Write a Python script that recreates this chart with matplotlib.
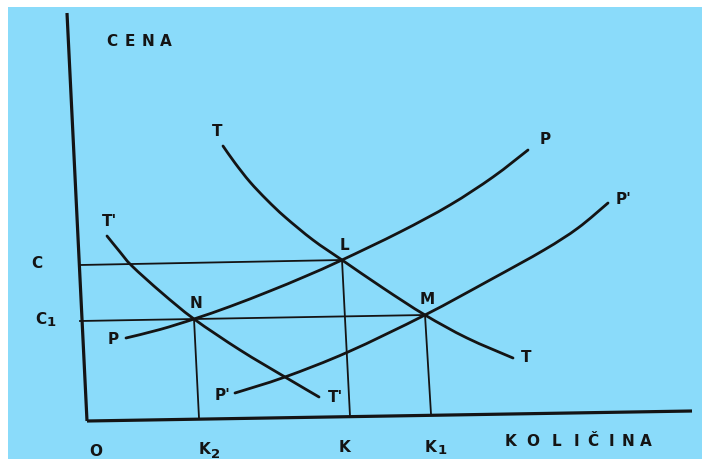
import matplotlib
matplotlib.use("Agg")
import matplotlib.pyplot as plt
from matplotlib.patches import Rectangle, PathPatch
from matplotlib.path import Path

# Supply / demand diagram in drawing units (x to the right, y downward)
# Demand curve T
t_x = [223, 235, 250, 267, 285, 313, 342, 383, 425, 467, 513]
t_y = [146, 163, 182, 200, 217, 240, 260, 288, 315, 338, 358]
# Shifted demand curve T'
t2_x = [107, 120, 132, 162, 194, 240, 285, 319]
t2_y = [236, 252, 266, 293, 319, 350, 377, 397]
# Supply curve P
p_x = [126, 160, 194, 230, 270, 305, 342, 400, 450, 493, 528]
p_y = [338, 329.5, 319, 306.5, 291, 276.5, 260, 232, 205, 177, 150]
# Shifted supply curve P'
p2_x = [235, 285, 348, 425, 490, 544, 578, 608]
p2_y = [393, 377, 352, 315, 280, 250, 228, 203]

# Equilibrium points N, L, M and where their guides meet the axes
eq_names = ["N", "L", "M"]
eq_x = [194, 342, 425]
eq_y = [319, 260, 315]
foot_x = [199, 350, 431]          # guide bottoms on quantity axis
foot_y = [418, 416, 414]
price_axis_x = [80, 80]           # guide starts on price axis (C, C1)
price_axis_y = [265, 321]

# Axes of the diagram
vaxis_x = [67, 87]
vaxis_y = [13, 421]
haxis_x = [87, 692]
haxis_y = [421, 411]

W, H = 702, 459
BLUE = "#8ADBFA"
INK = "#141414"


def smooth_path(xs, ys):
    """Cubic Bezier path through the given points (Catmull-Rom tangents)."""
    pts = list(zip(xs, ys))
    verts = [pts[0]]
    codes = [Path.MOVETO]
    n = len(pts)
    for i in range(n - 1):
        p0 = pts[i - 1] if i > 0 else pts[i]
        p1 = pts[i]
        p2 = pts[i + 1]
        p3 = pts[i + 2] if i + 2 < n else pts[i + 1]
        c1 = (p1[0] + (p2[0] - p0[0]) / 6, p1[1] + (p2[1] - p0[1]) / 6)
        c2 = (p2[0] - (p3[0] - p1[0]) / 6, p2[1] - (p3[1] - p1[1]) / 6)
        verts += [c1, c2, p2]
        codes += [Path.CURVE4] * 3
    return Path(verts, codes)


fig = plt.figure(figsize=(W / 100, H / 100), dpi=100, facecolor="white")
ax = fig.add_axes([0, 0, 1, 1])
ax.set_xlim(0, W)
ax.set_ylim(H, 0)
ax.axis("off")

ax.add_patch(Rectangle((8, 7), W - 8, H - 7, facecolor=BLUE, edgecolor="none", zorder=0))

# axes
ax.plot(vaxis_x, vaxis_y, color=INK, lw=2.3, solid_capstyle="butt", zorder=3)
ax.plot(haxis_x, haxis_y, color=INK, lw=2.3, solid_capstyle="butt", zorder=3)

# curves
for xs, ys in [(t_x, t_y), (t2_x, t2_y), (p_x, p_y), (p2_x, p2_y)]:
    ax.add_patch(PathPatch(smooth_path(xs, ys), facecolor="none", edgecolor=INK,
                           lw=2.0, capstyle="round", joinstyle="round", zorder=4))

# guide lines: C through L, C1 through N to M; verticals down to K2, K, K1
guide_kw = dict(color=INK, lw=1.3, zorder=2)
ax.plot([price_axis_x[0], eq_x[1]], [price_axis_y[0], eq_y[1]], **guide_kw)
ax.plot([price_axis_x[1], eq_x[2]], [price_axis_y[1], eq_y[2]], **guide_kw)
for ex, ey, fx, fy in zip(eq_x, eq_y, foot_x, foot_y):
    ax.plot([ex, fx], [ey, fy], **guide_kw)

txt = dict(color=INK, fontsize=11, fontweight="bold", ha="center", va="center",
           family="DejaVu Sans", zorder=5)
sub = dict(txt, fontsize=9.5)

# axis titles, letter-spaced
for ch, x in zip("CENA", [112, 130, 148, 166]):
    ax.text(x, 42, ch, **txt)
for ch, x in zip("KOLIČINA", [511, 533, 556, 576, 593, 611, 628, 646]):
    ax.text(x, 442, ch, **txt)

# quantity-axis labels
ax.text(96, 452, "O", **txt)
ax.text(204, 450, "K", **txt)
ax.text(216, 454, "2", **sub)
ax.text(345, 447, "K", **txt)
ax.text(430, 447, "K", **txt)
ax.text(442, 450, "1", **sub)

# price-axis labels
ax.text(37, 263, "C", **txt)
ax.text(41, 319, "C", **txt)
ax.text(51, 323, "1", **sub)

# curve labels
ax.text(217, 132, "T", **txt)
ax.text(526, 358, "T", **txt)
ax.text(109, 221, "T'", **txt)
ax.text(335, 398, "T'", **txt)
ax.text(113, 340, "P", **txt)
ax.text(545, 140, "P", **txt)
ax.text(223, 396, "P'", **txt)
ax.text(624, 200, "P'", **txt)

# equilibrium point labels
for name, ex, ey in zip(eq_names, eq_x, eq_y):
    ax.text(ex + 2, ey - 15, name, **txt)

fig.savefig("out.png", dpi=100, facecolor="white")
